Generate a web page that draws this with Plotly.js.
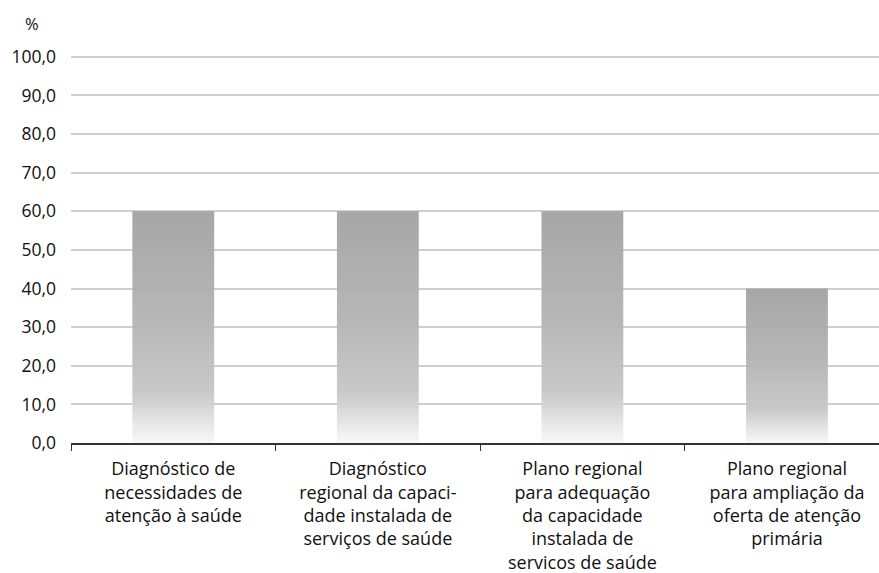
<!DOCTYPE html>
<html>
<head>
<meta charset="utf-8">
<script src="https://cdn.plot.ly/plotly-3.0.1.min.js"></script>
<style>html,body{margin:0;padding:0;background:#fff;}#chart{width:879px;height:573px;}</style>
</head>
<body>
<div id="chart"></div>
<script>
const categories = [
  "Diagnóstico de<br>necessidades de<br>atenção à saúde",
  "Diagnóstico<br>regional da capaci-<br>dade instalada de<br>serviços de saúde",
  "Plano regional<br>para adequação<br>da capacidade<br>instalada de<br>servicos de saúde",
  "Plano regional<br>para ampliação da<br>oferta de atenção<br>primária"
];
const values = [60.0, 60.0, 60.0, 40.0];
const yTicks = [0, 10, 20, 30, 40, 50, 60, 70, 80, 90, 100];

const font = {family: "Open Sans, Noto Sans, sans-serif", size: 17.5, color: "#111111"};
const xfont = {family: "Open Sans, Noto Sans, sans-serif", size: 18, color: "#111111"};

const trace = {
  type: "bar",
  x: categories,
  y: values,
  width: 0.4,
  marker: {color: "#b0b0b0", line: {width: 0}},
  hoverinfo: "skip"
};

const layout = {
  width: 879, height: 573,
  margin: {l: 71, r: 0, t: 53, b: 130},
  paper_bgcolor: "#ffffff",
  plot_bgcolor: "#ffffff",
  separators: ",.",
  font: font,
  showlegend: false,
  xaxis: {
    range: [-0.5, 3.45],
    showline: true, linecolor: "#333333", linewidth: 1.5,
    ticks: "outside", tickson: "boundaries", ticklen: 6, tickcolor: "#333333",
    tickfont: xfont,
    ticklabelstandoff: 9,
    showgrid: false, zeroline: false
  },
  yaxis: {
    range: [0, 101],
    tickvals: yTicks,
    tickformat: ".1f",
    tickfont: font,
    ticks: "", ticklen: 0,
    showgrid: true, gridcolor: "#cfcfcf", gridwidth: 2,
    zeroline: false, showline: false,
    ticklabelstandoff: 14
  },
  annotations: [{
    text: "%", xref: "paper", yref: "paper",
    x: -0.048, y: 1.04, xanchor: "center", yanchor: "bottom",
    showarrow: false, font: {family: font.family, size: 16.5, color: "#111111"}
  }]
};

Plotly.newPlot("chart", [trace], layout, {displayModeBar: false, staticPlot: true}).then(function(gd){
  const svg = gd.querySelector("svg.main-svg");
  const ns = "http://www.w3.org/2000/svg";
  let defs = svg.querySelector("defs");
  if (!defs) { defs = document.createElementNS(ns, "defs"); svg.insertBefore(defs, svg.firstChild); }
  const grad = document.createElementNS(ns, "linearGradient");
  grad.setAttribute("id", "barGrad");
  grad.setAttribute("x1", "0"); grad.setAttribute("y1", "0");
  grad.setAttribute("x2", "0"); grad.setAttribute("y2", "1");
  [["0%", "#a2a2a2"], ["45%", "#b2b2b2"], ["78%", "#c6c6c6"], ["100%", "#f8f8f8"]].forEach(function(s){
    const st = document.createElementNS(ns, "stop");
    st.setAttribute("offset", s[0]); st.setAttribute("stop-color", s[1]);
    grad.appendChild(st);
  });
  defs.appendChild(grad);
  gd.querySelectorAll(".bars .point path").forEach(function(p){
    p.style.fill = "url(#barGrad)";
    p.style.fillOpacity = "0.95";
  });
});
</script>
</body>
</html>
